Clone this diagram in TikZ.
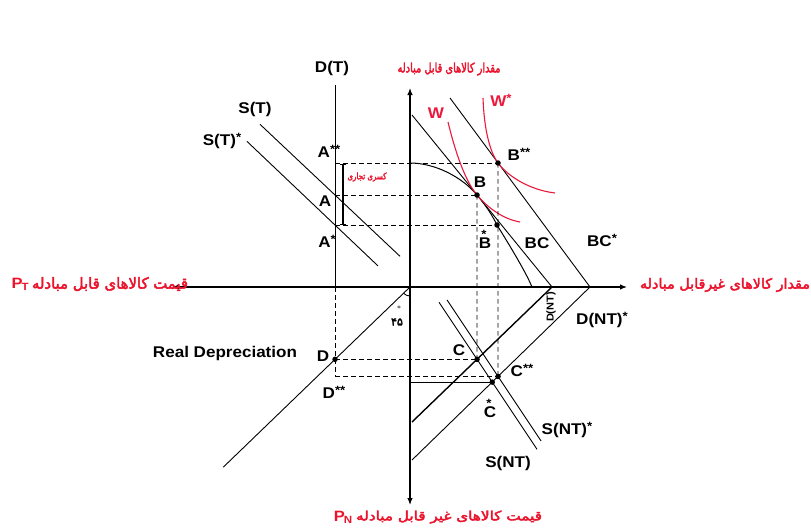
\documentclass[tikz,border=0pt]{standalone}
\usepackage{fontspec}
\setmainfont{Liberation Sans}[FakeStretch=1.1]
\newfontfamily\fa[Script=Arabic,FakeBold=3]{DejaVu Sans}
\TeXXeTstate=1
\usetikzlibrary{arrows.meta,calc}
\definecolor{fared}{RGB}{235,20,45}
\definecolor{curvered}{RGB}{235,25,60}
\newcommand\sta{\raisebox{4pt}{\fontsize{12}{12}\selectfont *}}
\newcommand\stb{\raisebox{4pt}{\fontsize{12}{12}\selectfont **}}
\newcommand\stabove{\makebox[0pt][l]{\hspace{2.5pt}\raisebox{10pt}{\fontsize{12}{12}\selectfont *}}}
\begin{document}
\begin{tikzpicture}[x=1pt,y=-1pt,
  lab/.style={font=\bfseries\fontsize{15.5}{15.5}\selectfont, inner sep=0pt},
  farsi/.style={text=fared, inner sep=0pt},
  axis/.style={line width=1.2pt, {Latex[length=7pt,width=5.5pt]}-{Latex[length=7pt,width=5.5pt]}},
  curve/.style={line width=1pt},
  thin/.style={line width=0.9pt},
  dsh/.style={line width=0.9pt, dash pattern=on 4.5pt off 3.5pt},
  wcurve/.style={line width=1.1pt, curvered},
  dot/.style={circle, fill=black, inner sep=0pt, minimum size=5.5pt}]
\useasboundingbox (0,0) rectangle (811,530);
% coordinates
\coordinate (O) at (410,287);
\coordinate (Vtop) at (410,88); \coordinate (Vbot) at (410,505);
\coordinate (Hl) at (172,287); \coordinate (Hr) at (627,287);
\coordinate (DTtop) at (335,85); \coordinate (DTax) at (335,287);
\coordinate (Ass) at (335,163); \coordinate (A) at (335,195); \coordinate (As) at (335,225);
\coordinate (ST1) at (260,124.3); \coordinate (ST2) at (400,256.3);
\coordinate (STs1) at (247,141.4); \coordinate (STs2) at (378,265.9);
\coordinate (B) at (477,195); \coordinate (Bss) at (498,163); \coordinate (Bs) at (497,225);
\coordinate (BC1) at (412,115); \coordinate (BC2) at (552,287);
\coordinate (BCs1) at (450,98); \coordinate (BCs2) at (590,287);
\coordinate (P0) at (410,163); \coordinate (P3) at (532,287);
\coordinate (DN2) at (412,422); \coordinate (DNs2) at (412,460);
\coordinate (Bd) at (477,420); \coordinate (Bssd) at (498,420);
\coordinate (C) at (intersection of BC2--DN2 and B--Bd);
\coordinate (Css) at (intersection of BCs2--DNs2 and Bss--Bssd);
\coordinate (SN1) at ($(C)+(-38,-57)$); \coordinate (SN2) at ($(C)+(60,90)$);
\coordinate (SNs1) at ($(Css)+(-51,-76.5)$); \coordinate (SNs2) at ($(Css)+(43,64.5)$);
\coordinate (Cs) at (intersection of SN1--SN2 and BCs2--DNs2);
\coordinate (D) at (DTax |- C);
\coordinate (Dss) at (DTax |- Css);
\coordinate (Ocs) at (O |- Cs);
\coordinate (L45) at ($(O)!2.49!(D)$);
\coordinate (W1) at (448,122); \coordinate (W2) at (520,222);
\coordinate (Ws1) at (483,98); \coordinate (Ws2) at (555,193);
\coordinate (Bk1) at (343,164); \coordinate (Bk2) at (343,224);
% axes
\draw[axis] (Vtop) -- (Vbot);
\draw[axis] (Hl) -- (Hr);
% D(T)
\draw[thin] (DTtop) -- (DTax);
\draw[dsh] (DTax) -- (Dss);
% S(T)
\draw[thin] (ST1) -- (ST2);
\draw[thin] (STs1) -- (STs2);
% BC lines
\draw[thin] (BC1) -- (BC2);
\draw[thin] (BCs1) -- (BCs2);
% PPF
\draw[curve] (P0) .. controls (435,163) and (462,177) .. (B)
  .. controls (487,207) and (492,215) .. (Bs)
  .. controls (505,238) and (525,270) .. (P3);
% indifference curves
\draw[wcurve] (W1) .. controls (456,155) and (466,182) .. (B)
  .. controls (488,208) and (503,219) .. (W2);
\draw[wcurve] (Ws1) .. controls (484,128) and (489.5,151.5) .. (Bss)
  .. controls (508,176.5) and (530,190) .. (Ws2);
% D(NT), S(NT)
\draw[line width=1.4pt] (BC2) -- (DN2);
\draw[thin] (BCs2) -- (DNs2);
\draw[thin] (SN1) -- (SN2);
\draw[thin] (SNs1) -- (SNs2);
% 45 line
\draw[thin] (O) -- (L45);
\draw[thin] (O) ++(90:9) arc[start angle=90,end angle=136,radius=9];
% dashed guides
\draw[dsh] (Ass) -- (Bss);
\draw[dsh] (A) -- (B);
\draw[dsh] (As) -- (Bs);
\draw[dsh] (B) -- (C);
\draw[dsh] (Bss) -- (Css);
\draw[dsh] (D) -- (C);
\draw[dsh] (Dss) -- (Css);
\draw[line width=1.1pt] (Ocs) -- (Cs);
% bracket
\draw[line width=1.8pt] (Bk1) -- (Bk2);
\draw[thin] ($(Bk1)+(-3,0)$) -- ($(Bk1)+(3,0)$);
\draw[thin] ($(Bk2)+(-3,0)$) -- ($(Bk2)+(3,0)$);
% dots
\foreach \p in {B,Bss,Bs,C,Css,Cs,D} \node[dot] at (\p) {};
% labels
\node[lab] (lDT) at (332,68) {D(T)};
\node[farsi] (lTop) at (449,69) {\resizebox*{103pt}{13pt}{\fa\beginR مقدار کالاهای قابل مبادله\endR}};
\node[lab] (lST) at (255,109) {S(T)};
\node[lab] (lSTs) at (222,141) {S(T)\sta};
\node[lab] (lAss) at (329,151) {A\stb};
\node[lab] (lA) at (325,201) {A};
\node[lab] (lAs) at (327,241) {A\sta};
\node[farsi] (lDef) at (367,177) {\resizebox*{39pt}{9pt}{\fa\beginR کسری تجاری\endR}};
\node[lab, text=curvered] (lW) at (436,113) {W};
\node[lab, text=curvered] (lWs) at (501,100) {W\sta};
\node[lab] (lBss) at (519,154) {B\stb};
\node[lab] (lB) at (480,182) {B};
\node[lab] (lBs) at (485,239) {\stabove B};
\node[lab] (lBC) at (537,243) {BC};
\node[lab] (lBCs) at (602,240) {BC\sta};
\node[farsi] (lLeft) at (110,284) {\resizebox*{156pt}{14pt}{\fa\beginR قیمت کالاهای قابل مبادله\endR}};
\node[farsi] (lPT) at (20,284) {\fontsize{15}{15}\selectfont$\mathbf{P}_{\mathbf{T}}$};
\node[farsi] (lRight) at (725,285) {\resizebox*{170pt}{14pt}{\fa\beginR مقدار کالاهای غیرقابل مبادله\endR}};
\node[lab, rotate=90, font=\bfseries\fontsize{10}{10}\selectfont] (lDN) at (551,307) {D(NT)};
\node[lab] (lDNs) at (602,320) {D(NT)\sta};
\node[inner sep=0pt] (l45d) at (399,309) {\fontsize{9}{9}\selectfont °};
\node[inner sep=0pt] (l45) at (397,322) {\fa\fontsize{11}{11}\selectfont ۴۵};
\node[lab] (lRD) at (225,353) {Real Depreciation};
\node[lab] (lD) at (323,356) {D};
\node[lab] (lDss) at (334,392) {D\stb};
\node[lab] (lC) at (459,350) {C};
\node[lab] (lCss) at (522,370) {C\stb};
\node[lab] (lCs) at (490,408) {\stabove C};
\node[lab] (lSNs) at (567,430) {S(NT)\sta};
\node[lab] (lSN) at (508,463) {S(NT)};
\node[farsi] (lBot) at (449,517) {\resizebox*{186pt}{13pt}{\fa\beginR قیمت کالاهای غیر قابل مبادله\endR}};
\node[farsi] (lPN) at (343,517) {\fontsize{15}{15}\selectfont$\mathbf{P}_{\mathbf{N}}$};
\end{tikzpicture}
\end{document}
